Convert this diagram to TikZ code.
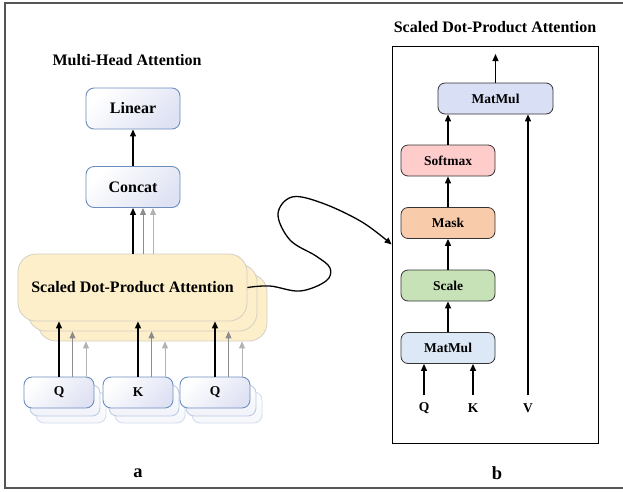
\documentclass[tikz,border=0pt]{standalone}
\usepackage{fontspec}
\setmainfont{Liberation Serif}
\usetikzlibrary{arrows.meta}
\definecolor{mhblue}{HTML}{6C8EBF}
\definecolor{lavend}{HTML}{DFE2F3}
\definecolor{sdpafill}{HTML}{FDEFC9}
\definecolor{sdpaedge}{HTML}{D3CFC4}
\definecolor{matmultop}{HTML}{D9DFF5}
\definecolor{matmulbot}{HTML}{DCE8F6}
\definecolor{softred}{HTML}{FFCCCC}
\definecolor{maskorange}{HTML}{F8CBAA}
\definecolor{scalegreen}{HTML}{C8E2B8}
\definecolor{framegray}{HTML}{555555}
\begin{document}
\begin{tikzpicture}[x=1pt,y=-1pt]
			\tikzset{mhbox/.style={rounded corners=8pt, draw=mhblue, line width=0.9pt, top color=white, bottom color=lavend, shading angle=45, minimum width=94pt, minimum height=41pt, inner sep=0pt, font=\fontsize{16}{18}\selectfont\bfseries},
				qbox/.style={mhbox, minimum width=70pt, minimum height=31pt, font=\fontsize{13.5}{15}\selectfont\bfseries},
				qback/.style={qbox, draw=mhblue!45, bottom color=lavend!45},
				sdpabox/.style={rounded corners=18pt, draw=sdpaedge, fill=sdpafill, line width=0.8pt, minimum width=229pt, minimum height=67pt, inner sep=0pt, font=\fontsize{16}{18}\selectfont\bfseries},
				opbox/.style={rounded corners=7pt, draw=black!80, line width=0.8pt, minimum width=94pt, minimum height=31pt, inner sep=0pt, font=\fontsize{13.5}{15}\selectfont\bfseries},
				lbl/.style={inner sep=0pt, font=\fontsize{13.5}{15}\selectfont\bfseries},
				arr/.style={line width=1.1pt, draw=black, -{Triangle[length=7pt,width=6pt]}},
				arrg/.style={arr, line width=0.9pt, draw=black!45, fill=black!45},
				arrl/.style={arr, line width=0.9pt, draw=black!30, fill=black!30}}

			\useasboundingbox (0,0) rectangle (623,491);
			\draw [line width=1.5pt, draw=framegray] (5,3) rectangle (640,488);

			\node[font=\fontsize{16}{18}\selectfont\bfseries] at (127,60) (mhtitle) {Multi-Head Attention};
			\node[mhbox] at (133,108.5) (linear) {Linear};
			\node[mhbox] at (133,187) (concat) {Concat};
			\node[sdpabox] at (152.5,307.5) (sdpaC) {};
			\node[sdpabox] at (142.5,297.5) (sdpaB) {};
			\node[sdpabox] at (132.5,287.5) (sdpaA) {Scaled Dot-Product Attention};
			\node[qback, draw=mhblue!30, bottom color=lavend!30] at (71,407.5) (qoneC) {};
			\node[qback] at (65,400.5) (qoneB) {};
			\node[qbox] at (59,392.5) (qone) {Q};
			\node[qback, draw=mhblue!30, bottom color=lavend!30] at (150,407.5) (kayC) {};
			\node[qback] at (144,400.5) (kayB) {};
			\node[qbox] at (138,392.5) (kay) {K};
			\node[qback, draw=mhblue!30, bottom color=lavend!30] at (227,407.5) (qtwoC) {};
			\node[qback] at (221,400.5) (qtwoB) {};
			\node[qbox] at (215,392.5) (qtwo) {Q};
			\node[font=\fontsize{18.5}{20}\selectfont\bfseries] at (138,473) (labela) {a};

			\draw [arr] (concat) -- (linear);
			\draw [arr] (concat.south |- sdpaA.north) -- (concat.south);
			\draw [arrg] ([xshift=10pt]concat.south |- sdpaA.north) -- ([xshift=10pt]concat.south);
			\draw [arrl] ([xshift=20pt]concat.south |- sdpaA.north) -- ([xshift=20pt]concat.south);
			\draw [arr] (qone.north) -- (qone.north |- sdpaA.south);
			\draw [arrg] ([xshift=13.5pt]qone.north) -- ([xshift=13.5pt]qone.north |- sdpaB.south);
			\draw [arrl] ([xshift=27pt]qone.north) -- ([xshift=27pt]qone.north |- sdpaC.south);
			\draw [arr] (kay.north) -- (kay.north |- sdpaA.south);
			\draw [arrg] ([xshift=13.5pt]kay.north) -- ([xshift=13.5pt]kay.north |- sdpaB.south);
			\draw [arrl] ([xshift=27pt]kay.north) -- ([xshift=27pt]kay.north |- sdpaC.south);
			\draw [arr] (qtwo.north) -- (qtwo.north |- sdpaA.south);
			\draw [arrg] ([xshift=13.5pt]qtwo.north) -- ([xshift=13.5pt]qtwo.north |- sdpaB.south);
			\draw [arrl] ([xshift=27pt]qtwo.north) -- ([xshift=27pt]qtwo.north |- sdpaC.south);

			\node[font=\fontsize{16}{18}\selectfont\bfseries] at (495,27) (sdtitle) {Scaled Dot-Product Attention};
			\node[draw, line width=0.8pt, minimum width=206pt, minimum height=397pt, inner sep=0pt] at (495,244.5) (sdpaframe) {};
			\node[opbox, fill=matmultop, minimum width=115pt] at (495.5,98.5) (mmtop) {MatMul};
			\node[opbox, fill=softred] at (448,160.5) (softmax) {Softmax};
			\node[opbox, fill=maskorange] at (448,223) (mask) {Mask};
			\node[opbox, fill=scalegreen] at (448,285.5) (scale) {Scale};
			\node[opbox, fill=matmulbot] at (448,348) (mmbot) {MatMul};
			\node[lbl] at (424,408) (qin) {Q};
			\node[lbl] at (473,408) (kin) {K};
			\node[lbl] at (528,408) (vin) {V};
			\coordinate (out) at (495.5,54);
			\node[font=\fontsize{18.5}{20}\selectfont\bfseries] at (497,473) (labelb) {b};

			\draw [arr] (mmtop) -- (out);
			\draw [arr] (softmax.north) -- (softmax.north |- mmtop.south);
			\draw [arr] (mask) -- (softmax);
			\draw [arr] (scale) -- (mask);
			\draw [arr] (mmbot) -- (scale);
			\draw [arr] ([yshift=13pt]qin.center) -- (qin |- mmbot.south);
			\draw [arr] ([yshift=13pt]kin.center) -- (kin |- mmbot.south);
			\draw [arr] ([yshift=13pt]vin.center) -- (vin |- mmtop.south);

			\draw [arr, line width=1.3pt] plot[smooth, tension=0.6] coordinates {(sdpaA.east) (270,286) (300,291) (326,281) (330,268) (316,256) (290,240) (278,214) (292,197) (322,203) (362,222) (sdpaframe.west)};
		\end{tikzpicture}
\end{document}
